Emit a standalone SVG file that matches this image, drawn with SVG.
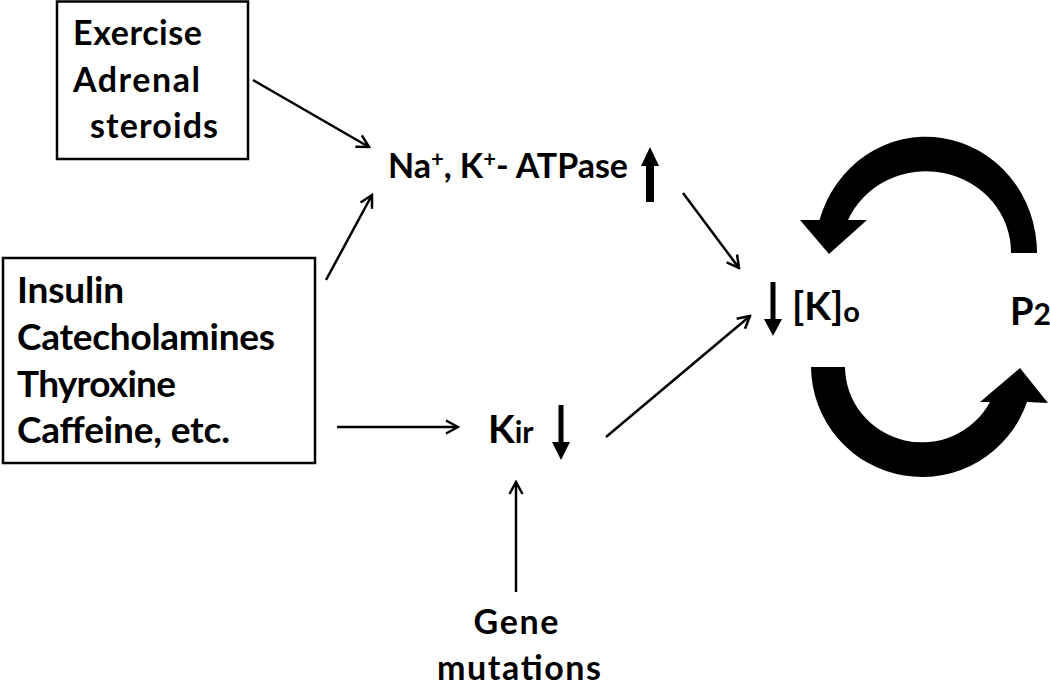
<svg xmlns="http://www.w3.org/2000/svg" width="1050" height="685" viewBox="0 0 1050 685">
<defs>
<style>
.t{font-family:Lato,"Liberation Sans",sans-serif;font-weight:bold;fill:#000}
.box{fill:#fff;stroke:#000;stroke-width:2.5}
.ln{stroke:#000;stroke-width:2.5;fill:none;marker-end:url(#ah)}
</style>
<marker id="ah" markerUnits="userSpaceOnUse" viewBox="-14 -8 16 16" markerWidth="16" markerHeight="16" refX="0" refY="0" orient="auto">
<path d="M -12 -6.5 L 0 0 L -12 6.5" fill="none" stroke="#000" stroke-width="2.5"/>
</marker>
</defs>
<rect width="1050" height="685" fill="#fff"/>

<g id="box-exercise">
<rect class="box" x="57" y="1.5" width="191" height="157.5"/>
<text class="t" font-size="34" x="73" y="45" textLength="129" lengthAdjust="spacing">Exercise</text>
<text class="t" font-size="34" x="73" y="92" textLength="127" lengthAdjust="spacing">Adrenal</text>
<text class="t" font-size="34" x="90" y="138" textLength="128" lengthAdjust="spacing">steroids</text>
</g>

<g id="box-insulin">
<rect class="box" x="3" y="258" width="312" height="205"/>
<text class="t" font-size="37" x="17" y="303" textLength="107" lengthAdjust="spacing">Insulin</text>
<text class="t" font-size="37" x="17" y="350" textLength="258" lengthAdjust="spacing">Catecholamines</text>
<text class="t" font-size="37" x="17" y="397" textLength="159" lengthAdjust="spacing">Thyroxine</text>
<text class="t" font-size="37" x="17" y="443" textLength="213" lengthAdjust="spacing">Caffeine, etc.</text>
</g>

<g id="na-k-atpase">
<text class="t" font-size="34" x="388" y="178" textLength="240" lengthAdjust="spacing">Na<tspan font-size="22" dy="-11">+</tspan><tspan dy="11">, K</tspan><tspan font-size="22" dy="-11">+</tspan><tspan dy="11">- ATPase</tspan></text>
<rect x="646" y="163" width="8" height="39" fill="#000"/>
<polygon points="641,166 659,166 650,147" fill="#000"/>
</g>

<g id="kir">
<text class="t" font-size="39" x="488" y="443">K<tspan font-size="30">ir</tspan></text>
<rect x="558.5" y="405" width="5" height="39" fill="#000"/>
<polygon points="552,442 570,442 561,460" fill="#000"/>
</g>

<g id="k-o">
<rect x="770.5" y="282" width="5" height="40" fill="#000"/>
<polygon points="764,319 782,319 773,336" fill="#000"/>
<text class="t" font-size="39" x="792" y="320">[K]<tspan font-size="29" dy="2">o</tspan></text>
</g>

<g id="p2">
<text class="t" font-size="38" x="1010" y="325">P<tspan font-size="30">2</tspan></text>
</g>

<g id="gene">
<text class="t" font-size="34" x="516" y="634" text-anchor="middle" textLength="85" lengthAdjust="spacing">Gene</text>
<text class="t" font-size="34" x="519" y="680" text-anchor="middle" textLength="164" lengthAdjust="spacing">mutations</text>
</g>

<g id="cycle">
<path d="M 1037 253 A 111 116 0 0 0 819.5 220 L 800 220 L 829 254 L 867 220 L 848 220 A 85 81 0 0 1 1011 253 Z" fill="#000"/>
<path d="M 811 367 A 111 111 0 0 0 1027 402 L 1048 403 L 1020 368 L 980 402 L 990 402 A 77 76 0 0 1 845 367 Z" fill="#000"/>
</g>

<g id="connectors">
<line class="ln" x1="253" y1="80" x2="369" y2="147"/>
<line class="ln" x1="326" y1="280" x2="372" y2="195"/>
<line class="ln" x1="683" y1="193" x2="739" y2="268"/>
<line class="ln" x1="337" y1="427" x2="458" y2="427"/>
<line class="ln" x1="606" y1="437" x2="750" y2="316"/>
<line class="ln" x1="516" y1="592" x2="516" y2="482"/>
</g>
</svg>
